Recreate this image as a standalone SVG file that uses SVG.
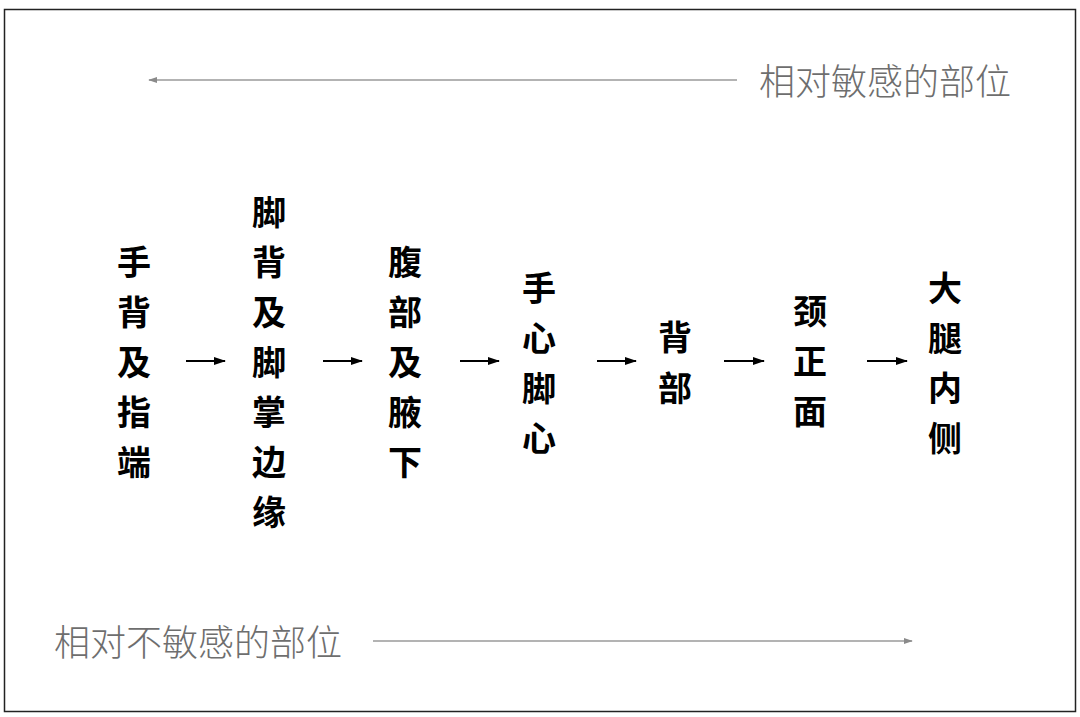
<svg xmlns="http://www.w3.org/2000/svg" width="1080" height="717" viewBox="0 0 1080 717">
<defs>
<style>
.n{font-family:"Noto Sans CJK SC","Noto Sans",sans-serif;font-weight:700;font-size:34px;fill:#000;text-anchor:middle;dominant-baseline:central}
.lbl{font-family:"Noto Sans CJK SC","Noto Sans",sans-serif;font-weight:300;font-size:36px;fill:#6e6e6e;dominant-baseline:central}
.a{stroke:#000;stroke-width:2;fill:none}
.g{stroke:#9a9a9a;stroke-width:1.6;fill:none}
</style>
<marker id="ab" viewBox="0 0 12 10" refX="11" refY="5" markerWidth="12" markerHeight="10" markerUnits="userSpaceOnUse" orient="auto"><path d="M0,1 L12,5 L0,9 z" fill="#000"/></marker>
<marker id="ag" viewBox="0 0 10 10" refX="9" refY="5" markerWidth="9" markerHeight="9" markerUnits="userSpaceOnUse" orient="auto"><path d="M0,1.5 L10,5 L0,8.5 z" fill="#8a8a8a"/></marker>
</defs>
<rect x="0" y="0" width="1080" height="717" fill="#fff"/>
<rect x="4.5" y="9.5" width="1071" height="702" fill="none" stroke="#222" stroke-width="1.5"/>

<g id="connectors">
<line class="g" x1="737" y1="80" x2="149" y2="80" marker-end="url(#ag)"/>
<line class="g" x1="373" y1="641" x2="912" y2="641" marker-end="url(#ag)"/>
<line class="a" x1="186" y1="361" x2="225" y2="361" marker-end="url(#ab)"/>
<line class="a" x1="323" y1="361" x2="362" y2="361" marker-end="url(#ab)"/>
<line class="a" x1="460" y1="361" x2="499" y2="361" marker-end="url(#ab)"/>
<line class="a" x1="597" y1="361" x2="636" y2="361" marker-end="url(#ab)"/>
<line class="a" x1="724" y1="361" x2="764" y2="361" marker-end="url(#ab)"/>
<line class="a" x1="867" y1="361" x2="907" y2="361" marker-end="url(#ab)"/>
</g>

<g id="label-top"><text class="lbl" x="759" y="79">相对敏感的部位</text></g>
<g id="label-bottom"><text class="lbl" x="54" y="640">相对不敏感的部位</text></g>

<g id="n1"><text class="n" x="134" y="260">手</text><text class="n" x="134" y="310">背</text><text class="n" x="134" y="360">及</text><text class="n" x="134" y="410">指</text><text class="n" x="134" y="460">端</text></g>
<g id="n2"><text class="n" x="269" y="210">脚</text><text class="n" x="269" y="260">背</text><text class="n" x="269" y="310">及</text><text class="n" x="269" y="360">脚</text><text class="n" x="269" y="410">掌</text><text class="n" x="269" y="460">边</text><text class="n" x="269" y="510">缘</text></g>
<g id="n3"><text class="n" x="405" y="260">腹</text><text class="n" x="405" y="310">部</text><text class="n" x="405" y="360">及</text><text class="n" x="405" y="410">腋</text><text class="n" x="405" y="460">下</text></g>
<g id="n4"><text class="n" x="539" y="286">手</text><text class="n" x="539" y="336">心</text><text class="n" x="539" y="386">脚</text><text class="n" x="539" y="436">心</text></g>
<g id="n5"><text class="n" x="675" y="335">背</text><text class="n" x="675" y="386">部</text></g>
<g id="n6"><text class="n" x="810" y="309">颈</text><text class="n" x="810" y="359">正</text><text class="n" x="810" y="409">面</text></g>
<g id="n7"><text class="n" x="945" y="286">大</text><text class="n" x="945" y="336">腿</text><text class="n" x="945" y="386">内</text><text class="n" x="945" y="436">侧</text></g>
</svg>
